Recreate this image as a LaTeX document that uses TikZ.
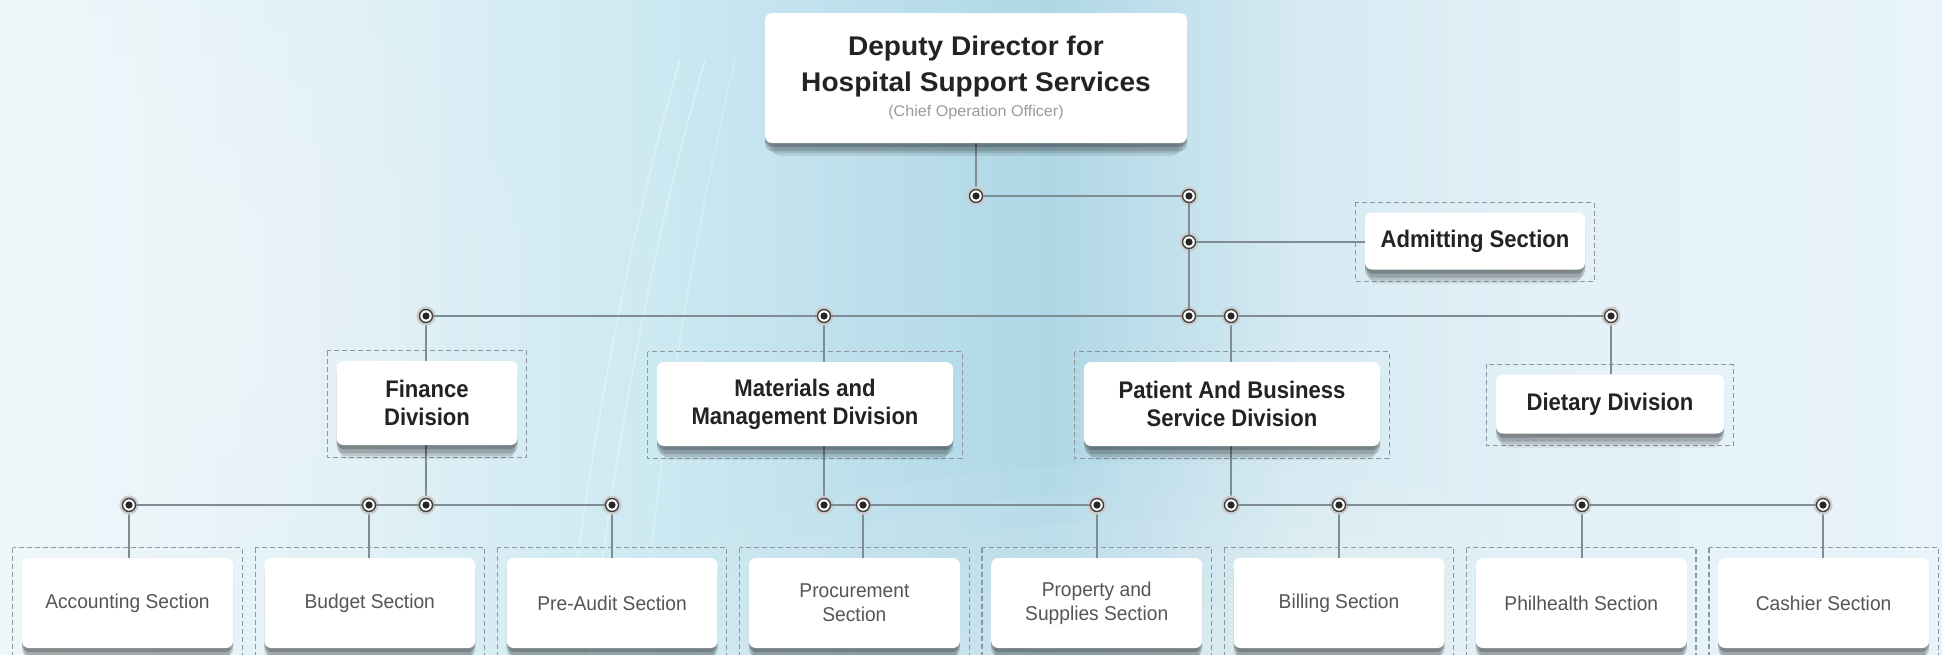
\documentclass[tikz,border=0pt]{standalone}
\usepackage{fontspec}
\setmainfont{Liberation Sans}
\newfontfamily\divfont[FakeStretch=0.92]{Liberation Sans}
\newfontfamily\secfont[FakeStretch=0.96]{Liberation Sans}
\newfontfamily\topfont[FakeStretch=1.04]{Liberation Sans}
\usetikzlibrary{shadows,calc}
\definecolor{c0}{HTML}{EEF7FA}
\definecolor{c1}{HTML}{E0F1F6}
\definecolor{c2}{HTML}{CDE9F2}
\definecolor{c3}{HTML}{AFD7E6}
\definecolor{c4}{HTML}{D6EAF2}
\definecolor{c5}{HTML}{E4F1F8}
\definecolor{c6}{HTML}{E8F3FA}
\pgfdeclarehorizontalshading{bgshade}{100bp}{color(0bp)=(c0); color(25bp)=(c0); color(34bp)=(c1); color(41.7bp)=(c2); color(52bp)=(c3); color(58.5bp)=(c4); color(66bp)=(c5); color(75bp)=(c6); color(100bp)=(c6)}
\definecolor{lineC}{HTML}{7F8C94}
\definecolor{frameC}{HTML}{8C969C}
\definecolor{txt}{HTML}{232323}
\definecolor{sectxt}{HTML}{555555}
\definecolor{subtxt}{HTML}{9A9A9A}
\pgfdeclarelayer{bg}\pgfdeclarelayer{fr}\pgfsetlayers{bg,fr,main}
\tikzset{
 box/.style={rectangle, fill=white, rounded corners=7pt, align=center, inner sep=0pt,
   drop shadow={shadow xshift=0pt, shadow yshift=-16pt, shadow scale=0.96, fill=black, opacity=0.08},
   drop shadow={shadow xshift=0pt, shadow yshift=-12pt, shadow scale=0.98, fill=black, opacity=0.11},
   drop shadow={shadow xshift=0pt, shadow yshift=-8pt, fill=black, opacity=0.15},
   drop shadow={shadow xshift=0pt, shadow yshift=-4pt, fill=black, opacity=0.2}},
 topbox/.style={box, minimum width=422pt, minimum height=130pt, text=txt, font=\topfont\bfseries\fontsize{27}{36}\selectfont},
 divbox/.style={box, minimum height=84pt, text=txt, font=\divfont\bfseries\fontsize{24}{28}\selectfont},
 secbox/.style={box, minimum width=211pt, minimum height=90pt, text=sectxt, font=\secfont\fontsize{20}{24}\selectfont},
 conn/.style={draw=lineC, line width=1.6pt},
 frameline/.style={draw=frameC, dash pattern=on 5pt off 3pt, line width=1.2pt},
 dotn/.style={circle, fill=white, draw=black!75, line width=1.4pt, minimum size=13pt, inner sep=0pt,
   preaction={draw=white!60!gray, line width=6pt},
   path picture={\fill[black!85] (path picture bounding box.center) circle (3.6pt);}},
 streak/.style={white, opacity=0.35, line width=1.6pt},
}
\newcommand{\orgframeof}[1]{\draw[frameline] ([shift={(-9pt,10pt)}]#1.north west) rectangle ([shift={(9pt,-12pt)}]#1.south east);}
\begin{document}
\begin{tikzpicture}[x=1pt,y=-1pt]
\useasboundingbox (0,0) rectangle (1942,654);
\clip (0,0) rectangle (1942,654);
\begin{pgfonlayer}{bg}
 \shade[shading=bgshade] (0,0) rectangle (1942,654);
 \foreach \r in {1,...,7} {
   \fill[white, opacity=0.06] (1150,700) ellipse ({120+70*\r} and {40+28*\r});
   \fill[white, opacity=0.05] (150,300) ellipse ({60+45*\r} and {50+40*\r});
 }
 \draw[streak] (565,654) .. controls (590,450) and (625,250) .. (680,60);
 \draw[streak] (590,654) .. controls (615,450) and (650,250) .. (705,60);
 \draw[streak, opacity=0.25] (640,654) .. controls (660,450) and (690,250) .. (735,60);
\end{pgfonlayer}

% top
\node[topbox] (top) at (976,78) {Deputy Director for\\ Hospital Support Services\\[-11pt] \mdseries\fontsize{15.5}{36}\selectfont\color{subtxt}(Chief Operation Officer)};

% dots upper
\node[dotn] (d0) at (976,196) {};
\node[dotn] (d1) at (1189,196) {};
\node[dotn] (d2) at (1189,242) {};
\node[dotn] (d3) at (1189,316) {};

\node[box, minimum width=220pt, minimum height=57pt, text=txt, font=\divfont\bfseries\fontsize{24}{28}\selectfont] (adm) at (1475,241) {Admitting Section};

\node[dotn] (dF) at (426,316) {};
\node[dotn] (dM) at (824,316) {};
\node[dotn] (dP) at (1231,316) {};
\node[dotn] (dD) at (1611,316) {};

% divisions
\node[divbox, minimum width=181pt] (fin) at (427,403) {Finance\\Division};
\node[divbox, minimum width=296pt] (mat) at (805,404) {Materials and\\Management Division};
\node[divbox, minimum width=296pt] (pat) at (1232,404) {Patient And Business\\Service Division};
\node[divbox, minimum width=228pt, minimum height=59pt] (die) at (1610,404) {Dietary Division};

% section dots
\node[dotn] (a1) at (129,505) {};
\node[dotn] (a2) at (369,505) {};
\node[dotn] (fB) at (426,505) {};
\node[dotn] (a3) at (612,505) {};
\node[dotn] (mB) at (824,505) {};
\node[dotn] (a4) at (863,505) {};
\node[dotn] (a5) at (1097,505) {};
\node[dotn] (pB) at (1231,505) {};
\node[dotn] (a6) at (1339,505) {};
\node[dotn] (a7) at (1582,505) {};
\node[dotn] (a8) at (1823,505) {};

% sections
\node[secbox] (s1) at (127.5,603) {Accounting Section};
\node[secbox] (s2) at (369.8,603) {Budget Section};
\node[secbox] (s3) at (612.1,603) {Pre-Audit Section};
\node[secbox] (s4) at (854.4,603) {Procurement\\Section};
\node[secbox] (s5) at (1096.7,603) {Property and\\Supplies Section};
\node[secbox] (s6) at (1339,603) {Billing Section};
\node[secbox] (s7) at (1581.3,603) {Philhealth Section};
\node[secbox] (s8) at (1823.6,603) {Cashier Section};

% frames
\begin{pgfonlayer}{fr}
 \orgframeof{adm}
 \orgframeof{fin}
 \orgframeof{mat}
 \orgframeof{pat}
 \orgframeof{die}
 \foreach \s in {s1,s2,s3,s4,s5,s6,s7,s8} {\orgframeof{\s}}
\end{pgfonlayer}

% connectors
\begin{pgfonlayer}{fr}
\draw[conn] (top) -- (d0);
\draw[conn] (dF) -- (dF |- fin.north);
\draw[conn] (dM) -- (dM |- mat.north);
\draw[conn] (dP) -- (dP |- pat.north);
\draw[conn] (dD) -- (dD |- die.north);
\draw[conn] (fin.south -| fB) -- (fB);
\draw[conn] (mat.south -| mB) -- (mB);
\draw[conn] (pat.south -| pB) -- (pB);
\draw[conn] (a1) -- (a1 |- s1.north);
\draw[conn] (a2) -- (a2 |- s2.north);
\draw[conn] (a3) -- (a3 |- s3.north);
\draw[conn] (a4) -- (a4 |- s4.north);
\draw[conn] (a5) -- (a5 |- s5.north);
\draw[conn] (a6) -- (a6 |- s6.north);
\draw[conn] (a7) -- (a7 |- s7.north);
\draw[conn] (a8) -- (a8 |- s8.north);
\end{pgfonlayer}
\draw[conn] (d0) -- (d1);
\draw[conn] (d1) -- (d2);
\draw[conn] (d2) -- (d3);
\draw[conn] (d2) -- (d2 -| adm.west);
\draw[conn] (dF) -- (dM);
\draw[conn] (dM) -- (d3);
\draw[conn] (d3) -- (dP);
\draw[conn] (dP) -- (dD);
\draw[conn] (a1) -- (a2);
\draw[conn] (a2) -- (fB);
\draw[conn] (fB) -- (a3);
\draw[conn] (mB) -- (a4);
\draw[conn] (a4) -- (a5);
\draw[conn] (pB) -- (a6);
\draw[conn] (a6) -- (a7);
\draw[conn] (a7) -- (a8);
\end{tikzpicture}
\end{document}
